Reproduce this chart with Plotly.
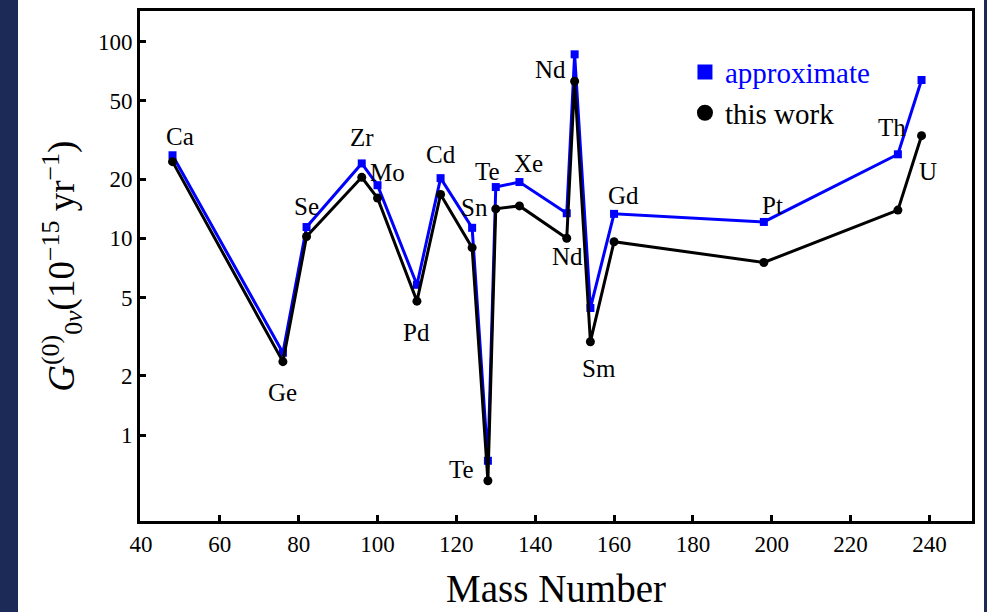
import math
import plotly.graph_objects as go

# ---- data ----
mass = [48, 76, 82, 96, 100, 110, 116, 124, 128, 130, 136, 148, 150, 154, 160, 198, 232, 238]
elements = ["Ca", "Ge", "Se", "Zr", "Mo", "Pd", "Cd", "Sn", "Te", "Te", "Xe", "Nd", "Nd", "Sm", "Gd", "Pt", "Th", "U"]
approximate = [26.4, 2.62, 11.4, 24.0, 18.6, 5.8, 20.2, 11.3, 0.74, 18.2, 19.3, 13.4, 86.0, 4.42, 13.3, 12.1, 26.7, 63.7]
this_work = [24.5, 2.36, 10.2, 20.4, 16.0, 4.79, 16.7, 8.96, 0.586, 14.1, 14.6, 10.0, 62.8, 2.98, 9.6, 7.53, 13.9, 33.2]
x_ticks = [40, 60, 80, 100, 120, 140, 160, 180, 200, 220, 240]
y_ticks = [1, 2, 5, 10, 20, 50, 100]

# label offsets in pixels relative to the "approximate" point (style only)
label_dx = [7, 0, 0, 0, 10, 0, 0, 2, -26, -8, 9, 1, -24, 9, 9, 9, -6, 6]
label_dy = [19, -40, 21, 26, 13, -48, 24, 20, -9, 16, 19, -43, -15, -60, 18, 16, 27, -92]

FONT = "Liberation Serif, Times New Roman, serif"
BLUE = "#0000ff"
NAVY = "#1b2a57"

fig = go.Figure()

fig.add_trace(go.Scatter(
    x=mass, y=approximate, mode="lines+markers",
    line=dict(color=BLUE, width=3),
    marker=dict(symbol="square", size=8, color=BLUE),
    showlegend=False, name="approximate"))
fig.add_trace(go.Scatter(
    x=mass, y=this_work, mode="lines+markers",
    line=dict(color="black", width=3),
    marker=dict(symbol="circle", size=9, color="black"),
    showlegend=False, name="this work"))

# legend-only entries
fig.add_trace(go.Scatter(
    x=[None], y=[None], mode="markers",
    marker=dict(symbol="square", size=15, color=BLUE),
    name='<span style="color:#0000ff">approximate</span>'))
fig.add_trace(go.Scatter(
    x=[None], y=[None], mode="markers",
    marker=dict(symbol="circle", size=16, color="black"),
    name="this work"))

for m, el, v, dx, dy in zip(mass, elements, approximate, label_dx, label_dy):
    fig.add_annotation(x=m, y=math.log10(v), xref="x", yref="y", text=el,
                       showarrow=False, xshift=dx, yshift=dy,
                       font=dict(family=FONT, size=25, color="black"))

# y-axis title as rotated annotation
fig.add_annotation(
    x=-0.094, y=0.5, xref="paper", yref="paper", textangle=-90, showarrow=False,
    text="<i>G</i><sup>(0)</sup><sub>0<i>ν</i></sub>(10<sup>−15</sup> yr<sup>−1</sup>)",
    font=dict(family=FONT, size=37, color="black"), xanchor="center", yanchor="middle")

# side strips of the slide background
fig.add_shape(type="rect", xref="paper", yref="paper",
              x0=-140 / 832, x1=-122 / 832, y0=-1, y1=2,
              fillcolor=NAVY, line_width=0, layer="below")
fig.add_shape(type="rect", xref="paper", yref="paper",
              x0=1 + 12 / 832, x1=1 + 20 / 832, y0=-1, y1=2,
              fillcolor=NAVY, line_width=0, layer="below")

fig.update_layout(
    width=987, height=612,
    margin=dict(l=140, r=15, t=8, b=89),
    paper_bgcolor="white", plot_bgcolor="white",
    font=dict(family=FONT, color="black"),
    legend=dict(x=0.655, y=0.93, xanchor="left", yanchor="top",
                bgcolor="rgba(0,0,0,0)", font=dict(family=FONT, size=29, color="black"),
                itemsizing="trace", tracegroupgap=0, itemwidth=30),
    xaxis=dict(range=[39.75, 250.8], tickvals=x_ticks, ticktext=[str(t) for t in x_ticks],
               ticks="inside", ticklen=6, tickwidth=3, tickcolor="black",
               showline=True, linewidth=3, linecolor="black", mirror=True,
               showgrid=False, zeroline=False,
               tickfont=dict(family=FONT, size=23, color="black"),
               title=dict(text="Mass Number", font=dict(family=FONT, size=39, color="black"),
                          standoff=20)),
    yaxis=dict(type="log", range=[-0.4368, 2.1547], tickvals=y_ticks,
               ticktext=[str(t) for t in y_ticks],
               ticks="inside", ticklen=6, tickwidth=3, tickcolor="black",
               showline=True, linewidth=3, linecolor="black", mirror=True,
               showgrid=False, zeroline=False,
               tickfont=dict(family=FONT, size=23, color="black")),
)

fig.write_html("out.html", config={"displayModeBar": False},
               post_script="document.body.style.margin='0';document.body.style.overflow='hidden';")
